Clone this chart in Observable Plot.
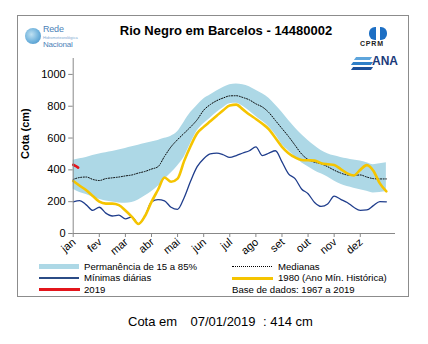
<!DOCTYPE html>
<html>
<head>
<meta charset="utf-8">
<script src="https://cdn.jsdelivr.net/npm/d3@7"></script>
<script src="https://cdn.jsdelivr.net/npm/@observablehq/plot@0.6"></script>
<style>
  html, body { margin: 0; padding: 0; background: #fff; }
  #page { position: relative; width: 428px; height: 344px; overflow: hidden; font-family: "Liberation Sans", Arial, sans-serif; color: #000; }
  .abs { position: absolute; white-space: nowrap; }
  #frame { left: 17px; top: 15px; width: 390px; height: 280px; border: 1px solid #8c8c8c; box-sizing: content-box; }
  #title { left: 0; width: 452px; top: 23px; text-align: center; font-weight: bold; font-size: 13px; }
  #chart { left: 0; top: 0; }
  .sw { position: absolute; height: 0; }
  .lg { font-size: 9.6px; line-height: 11px; }
  .cap { font-size: 13px; top: 314px; }
</style>
</head>
<body>
<div id="page">
  <div id="frame" class="abs"></div>
  <div id="chart" class="abs"></div>
  <div id="title" class="abs">Rio Negro em Barcelos - 14480002</div>

  <!-- logos -->
  <div class="abs" style="left:25px;top:28px;width:16px;height:16px;border-radius:50%;background:radial-gradient(circle at 40% 40%,#bfe1f2 0%,#6fb2dc 55%,#3f88c2 100%);"></div>
  <div class="abs" style="left:43px;top:24px;font-size:9px;color:#4d82b8;letter-spacing:-0.2px;">Rede</div>
  <div class="abs" style="left:43px;top:35px;font-size:4px;color:#7fa9d2;">Hidrometeorológica</div>
  <div class="abs" style="left:43px;top:40px;font-size:8px;color:#4d82b8;letter-spacing:-0.2px;">Nacional</div>

  <div class="abs" style="left:369px;top:27px;width:18px;height:13px;border-radius:6px;background:#1d6fc4;"></div>
  <div class="abs" style="left:376px;top:27px;width:4px;height:13px;background:#fff;"></div>
  <div class="abs" style="left:360px;top:40px;font-size:7px;font-weight:bold;letter-spacing:0.8px;color:#222;">CPRM</div>

  <div class="abs" style="left:352px;top:62px;width:20px;height:3px;background:#2f7fc8;transform:skewX(-35deg);"></div>
  <div class="abs" style="left:355px;top:57px;width:16px;height:3px;background:#5ea5dc;transform:skewX(-35deg);"></div>
  <div class="abs" style="left:352px;top:67px;width:20px;height:3px;background:#1c4f99;transform:skewX(-35deg);"></div>
  <div class="abs" style="left:372px;top:54px;font-size:12px;font-weight:bold;color:#1b3a7a;">ANA</div>

  <!-- legend -->
  <div class="sw" style="left:39px;top:264px;width:40px;border-top:5px solid #add8e6;"></div>
  <div class="abs lg" style="left:84px;top:261px;">Permanência de 15 a 85%</div>
  <div class="sw" style="left:39px;top:276.5px;width:40px;border-top:2px solid #2b4c86;"></div>
  <div class="abs lg" style="left:84px;top:272px;">Mínimas diárias</div>
  <div class="sw" style="left:39px;top:287.5px;width:41px;border-top:3px solid #e3151b;"></div>
  <div class="abs lg" style="left:84px;top:284px;">2019</div>

  <div class="sw" style="left:232px;top:266px;width:40px;border-top:1px dotted #000;"></div>
  <div class="abs lg" style="left:278px;top:261px;">Medianas</div>
  <div class="sw" style="left:232px;top:276.5px;width:41px;border-top:3px solid #f5c400;"></div>
  <div class="abs lg" style="left:278px;top:272px;">1980 (Ano Mín. Histórica)</div>
  <div class="abs lg" style="left:232px;top:284px;">Base de dados: 1967 a 2019</div>

  <!-- caption -->
  <div class="abs cap" style="left:128px;">Cota em</div>
  <div class="abs cap" style="left:190.5px;">07/01/2019</div>
  <div class="abs cap" style="left:263px;">: 414 cm</div>
</div>
<script>
// ---- data ----
const months = ["jan","fev","mar","abr","mai","jun","jul","ago","set","out","nov","dez"];
const yTicks = [0, 200, 400, 600, 800, 1000];
// sampling grid: position in months, quarter-month steps (jan 1 = 0, dec 31 = 12)
const xMonth = d3.range(49).map(i => i / 4);

const bandLow = [278,258,245,230,215,205,198,192,190,195,210,235,262,295,340,380,425,480,565,645,690,725,760,790,815,818,800,770,735,705,670,620,560,520,482,445,420,395,375,355,330,310,295,285,275,265,255,258,262];
const bandHigh = [460,470,478,490,500,508,515,525,535,545,555,565,575,585,598,612,640,700,760,805,845,870,895,918,935,940,935,922,900,878,850,808,762,712,665,622,585,552,522,502,488,478,470,462,455,445,432,438,445];
const medianas = [340,352,355,340,333,345,350,355,362,368,380,390,405,420,485,545,590,630,670,715,775,810,835,852,865,866,855,840,815,795,760,710,660,610,555,500,465,448,438,420,398,380,368,365,368,355,345,343,343];
const minimas = [199,207,180,145,165,128,110,115,92,105,60,110,199,213,205,165,152,225,330,420,470,500,505,495,478,490,506,520,545,490,505,520,450,375,345,280,250,195,170,185,235,215,195,165,145,148,175,200,199];
const ano1980 = [330,300,272,236,200,188,188,178,145,105,60,110,199,275,352,325,345,455,550,630,670,705,740,775,805,810,780,748,720,690,655,600,545,505,478,462,460,458,442,435,430,405,378,365,400,430,395,315,265];
const x2019 = [0, 0.1, 0.19];
const cota2019 = [432, 424, 414];

const data = xMonth.map((m, i) => ({m, lo: bandLow[i], hi: bandHigh[i], med: medianas[i], min: minimas[i], y80: ano1980[i]}));
const red = x2019.map((m, i) => ({m, v: cota2019[i]}));

const chart = Plot.plot({
  width: 428,
  height: 262,
  marginLeft: 72.7,
  marginRight: 33,
  marginTop: 58,
  marginBottom: 29,
  x: {domain: [0, 12.35]},
  y: {domain: [0, 1100]},
  style: {fontFamily: "'Liberation Sans', Arial, sans-serif", fontSize: "11px", color: "#000", background: "transparent", overflow: "visible"},
  marks: [
    Plot.areaY(data, {x: "m", y1: "lo", y2: "hi", fill: "#add8e6", curve: "monotone-x"}),
    Plot.lineY(data, {x: "m", y: "med", stroke: "#000", strokeWidth: 1, strokeDasharray: "1 1.6", curve: "monotone-x"}),
    Plot.lineY(data, {x: "m", y: "min", stroke: "#1f3d8c", strokeWidth: 1.3, curve: "monotone-x"}),
    Plot.lineY(data, {x: "m", y: "y80", stroke: "#f5c400", strokeWidth: 2.6, curve: "monotone-x"}),
    Plot.lineY(red, {x: "m", y: "v", stroke: "#e3151b", strokeWidth: 2.6}),
    Plot.ruleX([0], {stroke: "#888"}),
    Plot.ruleY([0], {stroke: "#888"}),
    Plot.axisY({ticks: yTicks, tickFormat: d => String(d), tickSize: 4.5, tickPadding: 3, label: null, stroke: "#888", fill: "#000", fontSize: 11}),
    Plot.axisX({ticks: d3.range(12), tickFormat: () => "", tickSize: 4, label: null, stroke: "#888"}),
    Plot.text(months, {x: (d, i) => i, y: 0, dx: 1, dy: 7, rotate: -40, textAnchor: "end", lineAnchor: "middle", fontSize: 11, fill: "#000"}),
    Plot.text(["Cota (cm)"], {frameAnchor: "left", dx: -48, dy: 13, rotate: -90, fontWeight: "bold", fontSize: 11})
  ]
});
document.getElementById("chart").appendChild(chart);
</script>
</body>
</html>
